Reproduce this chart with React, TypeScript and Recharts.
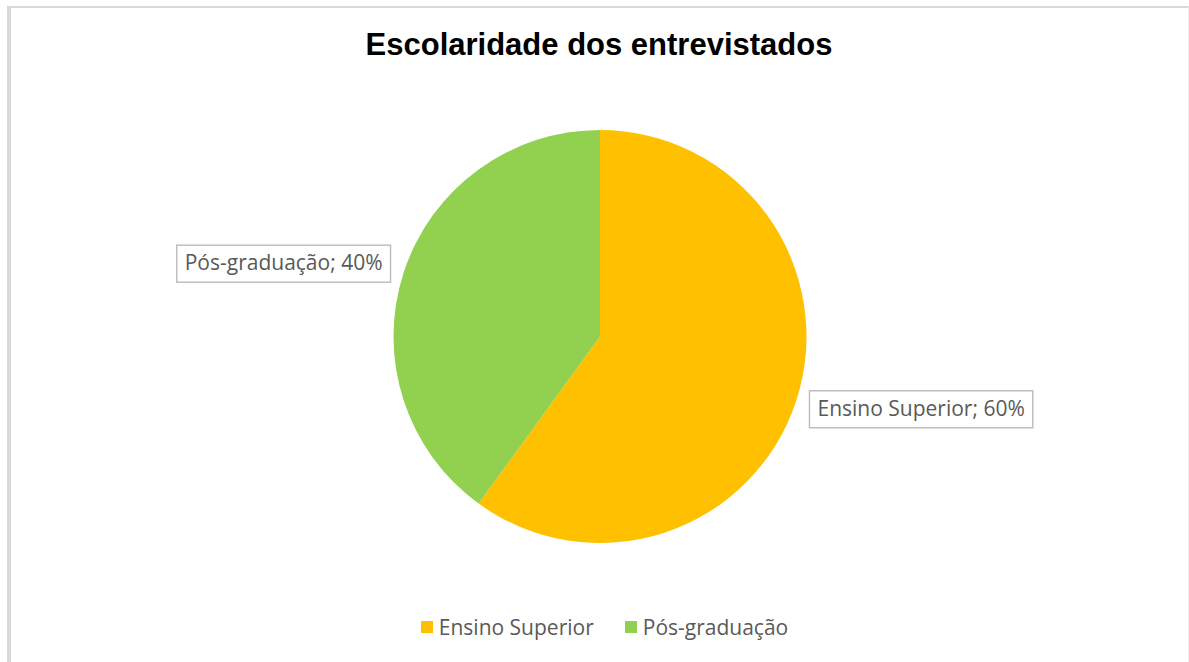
import React from 'react'
import { PieChart, Pie, Cell, Legend } from 'recharts'

const categories = ['Ensino Superior', 'Pós-graduação']
const shares = [60, 40]
const colors = ['#FFC000', '#92D050']

const data = categories.map((name, i) => ({ name, value: shares[i] }))

const FONT = '"Open Sans", "Noto Sans", sans-serif'
const FONT_SIZE = 21

let canvas: HTMLCanvasElement | null = null
const measure = (text: string) => {
  if (!canvas) canvas = document.createElement('canvas')
  const ctx = canvas.getContext('2d')
  if (!ctx) return text.length * FONT_SIZE * 0.55
  ctx.font = `${FONT_SIZE}px ${FONT}`
  return ctx.measureText(text).width
}

const RAD = Math.PI / 180

const renderLabel = (props: any) => {
  const { cx, cy, midAngle, outerRadius, name, value } = props
  const r = outerRadius + 29
  const ax = cx + r * Math.cos(-midAngle * RAD)
  const ay = cy + r * Math.sin(-midAngle * RAD)
  const text = `${name}; ${value}%`
  const w = measure(text) + 16
  const h = 37
  const right = Math.cos(-midAngle * RAD) >= 0
  const x0 = right ? ax - 14.5 : ax + 14.5 - w
  return (
    <g>
      <rect x={x0} y={ay - h / 2} width={w} height={h} fill="#fff" stroke="#bfbfbf" strokeWidth={1.5} />
      <text
        x={x0 + w / 2}
        y={ay + 1}
        textAnchor="middle"
        dominantBaseline="middle"
        fill="#595959"
        style={{ fontFamily: FONT, fontSize: FONT_SIZE }}
      >
        {text}
      </text>
    </g>
  )
}

const renderLegend = (props: any) => {
  const { payload } = props
  return (
    <div style={{ display: 'flex', justifyContent: 'center', gap: 31, fontFamily: FONT, fontSize: FONT_SIZE, color: '#595959' }}>
      {(payload || []).map((p: any) => (
        <div key={p.value} style={{ display: 'flex', alignItems: 'center' }}>
          <span style={{ display: 'inline-block', width: 12, height: 12, background: p.color, marginRight: 6 }} />
          <span>{p.value}</span>
        </div>
      ))}
    </div>
  )
}

export default function App() {
  return (
    <div style={{ position: 'absolute', left: 0, top: 0, width: 1189, height: 662, overflow: 'hidden', background: '#fff' }}>
      <div
        style={{
          position: 'absolute',
          left: 0,
          top: -23,
          width: 1170,
          textAlign: 'center',
          fontFamily: 'Arial, "Liberation Sans", sans-serif',
          fontSize: 26,
          lineHeight: '26px',
          color: '#999999',
        }}
      >
        Gráfico 1 – Escolaridade dos entrevistados
      </div>
      <div
        style={{
          position: 'absolute',
          left: 7,
          top: 6,
          width: 1177,
          height: 700,
          borderLeft: '4px solid #d9d9d9',
          borderTop: '2px solid #d9d9d9',
          borderRight: '1px solid #eeeeee',
        }}
      />
      <div
        style={{
          position: 'absolute',
          left: 0,
          top: 26,
          width: 1198,
          textAlign: 'center',
          fontFamily: 'Arial, "Liberation Sans", sans-serif',
          fontWeight: 'bold',
          fontSize: 31,
          lineHeight: '38px',
          color: '#000',
        }}
      >
        Escolaridade dos entrevistados
      </div>
      <div style={{ position: 'absolute', left: 0, top: 0 }}>
        <PieChart width={1189} height={662} margin={{ top: 0, right: 0, bottom: 0, left: 0 }}>
          <Pie
            data={data}
            dataKey="value"
            nameKey="name"
            cx={600}
            cy={336.5}
            outerRadius={206.5}
            startAngle={90}
            endAngle={-270}
            stroke="none"
            label={renderLabel}
            labelLine={false}
            isAnimationActive={false}
          >
            {data.map((d, i) => (
              <Cell key={d.name} fill={colors[i]} />
            ))}
          </Pie>
          <Legend content={renderLegend} wrapperStyle={{ top: 613, left: 10, width: 1189 }} />
        </PieChart>
      </div>
    </div>
  )
}
